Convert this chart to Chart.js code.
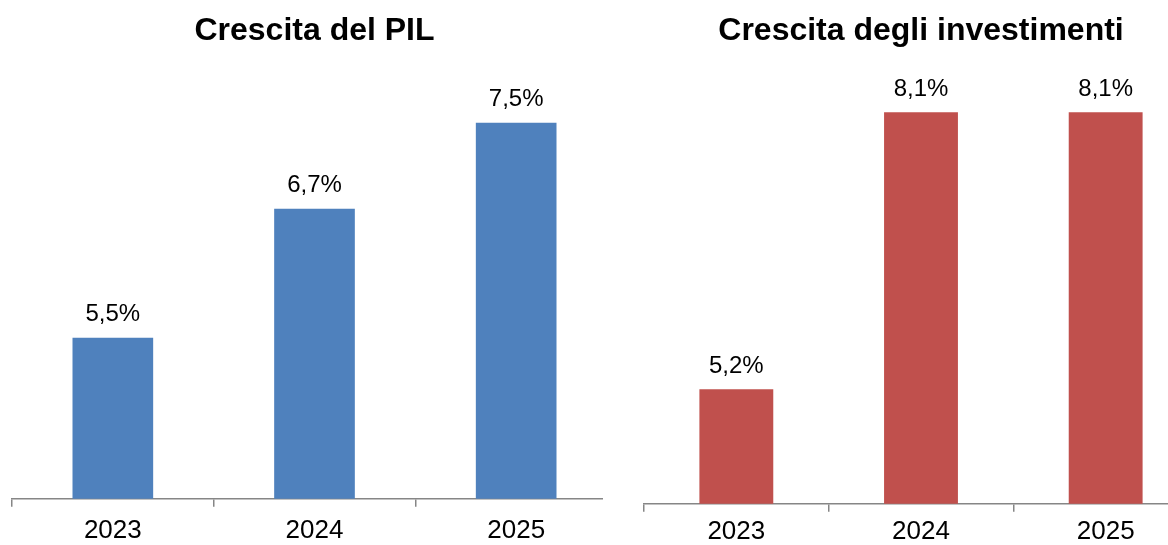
<!DOCTYPE html>
<html lang="it">
<head>
    <meta charset="UTF-8">
    <title>Crescita</title>
    <script src="https://cdn.jsdelivr.net/npm/chart.js"></script>
</head>
<style>
    body {
        margin: 0;
        background: #ffffff;
        width: 1168px;
        height: 545px;
        overflow: hidden;
        position: relative;
    }
    .box {
        position: absolute;
        top: 0;
        height: 545px;
        overflow: hidden;
    }
    #leftBox { left: 0; width: 603px; }
    #rightBox { left: 630px; width: 538px; }
</style>
<body>
    <div class="box" id="leftBox"><canvas id="pilChart" width="640" height="554"></canvas></div>
    <div class="box" id="rightBox"><canvas id="invChart" width="580" height="551"></canvas></div>
    <script>
        // data
        const years = ['2023', '2024', '2025'];
        const pilGrowth = [5.5, 6.7, 7.5];
        const invGrowth = [5.2, 8.1, 8.1];

        const axisGrey = '#868686';
        const fontName = '"Liberation Sans", Arial, sans-serif';

        // draws "5,5%" style labels above each bar
        const valueLabels = {
            id: 'valueLabels',
            afterDatasetsDraw(chart) {
                const ctx = chart.ctx;
                const meta = chart.getDatasetMeta(0);
                const values = chart.data.datasets[0].data;
                ctx.save();
                ctx.font = '24px ' + fontName;
                ctx.fillStyle = '#000000';
                ctx.textAlign = 'center';
                ctx.textBaseline = 'bottom';
                meta.data.forEach((bar, i) => {
                    const txt = values[i].toFixed(1).replace('.', ',') + '%';
                    ctx.fillText(txt, bar.x, bar.y - 11);
                });
                ctx.restore();
            }
        };

        function makeChart(id, title, values, color, yMax, pad, titleBottom, tickPad) {
            return new Chart(document.getElementById(id), {
                type: 'bar',
                data: {
                    labels: years,
                    datasets: [{
                        data: values,
                        backgroundColor: color,
                        barPercentage: 0.4,
                        categoryPercentage: 1.0
                    }]
                },
                options: {
                    responsive: false,
                    animation: false,
                    layout: { padding: pad },
                    plugins: {
                        legend: { display: false },
                        tooltip: { enabled: false },
                        title: {
                            display: true,
                            text: title,
                            color: '#000000',
                            font: { family: fontName, size: 32, weight: 'bold' },
                            padding: { top: 12, bottom: titleBottom }
                        }
                    },
                    scales: {
                        x: {
                            border: { color: axisGrey, width: 1.5 },
                            grid: {
                                drawOnChartArea: false,
                                tickLength: 8,
                                color: axisGrey,
                                lineWidth: 1.5
                            },
                            ticks: {
                                color: '#000000',
                                padding: tickPad,
                                font: { family: fontName, size: 26 }
                            }
                        },
                        y: {
                            display: false,
                            min: 4,
                            max: yMax
                        }
                    }
                },
                plugins: [valueLabels]
            });
        }

        makeChart('pilChart', 'Crescita del PIL', pilGrowth, '#4F81BD', 8,
            { left: 12, right: 23, bottom: 0 }, 18.6, 8);
        makeChart('invChart', 'Crescita degli investimenti', invGrowth, '#C0504D', 8.5,
            { left: 14, right: 12, bottom: 0 }, 23.6, 4);
    </script>
</body>
</html>
